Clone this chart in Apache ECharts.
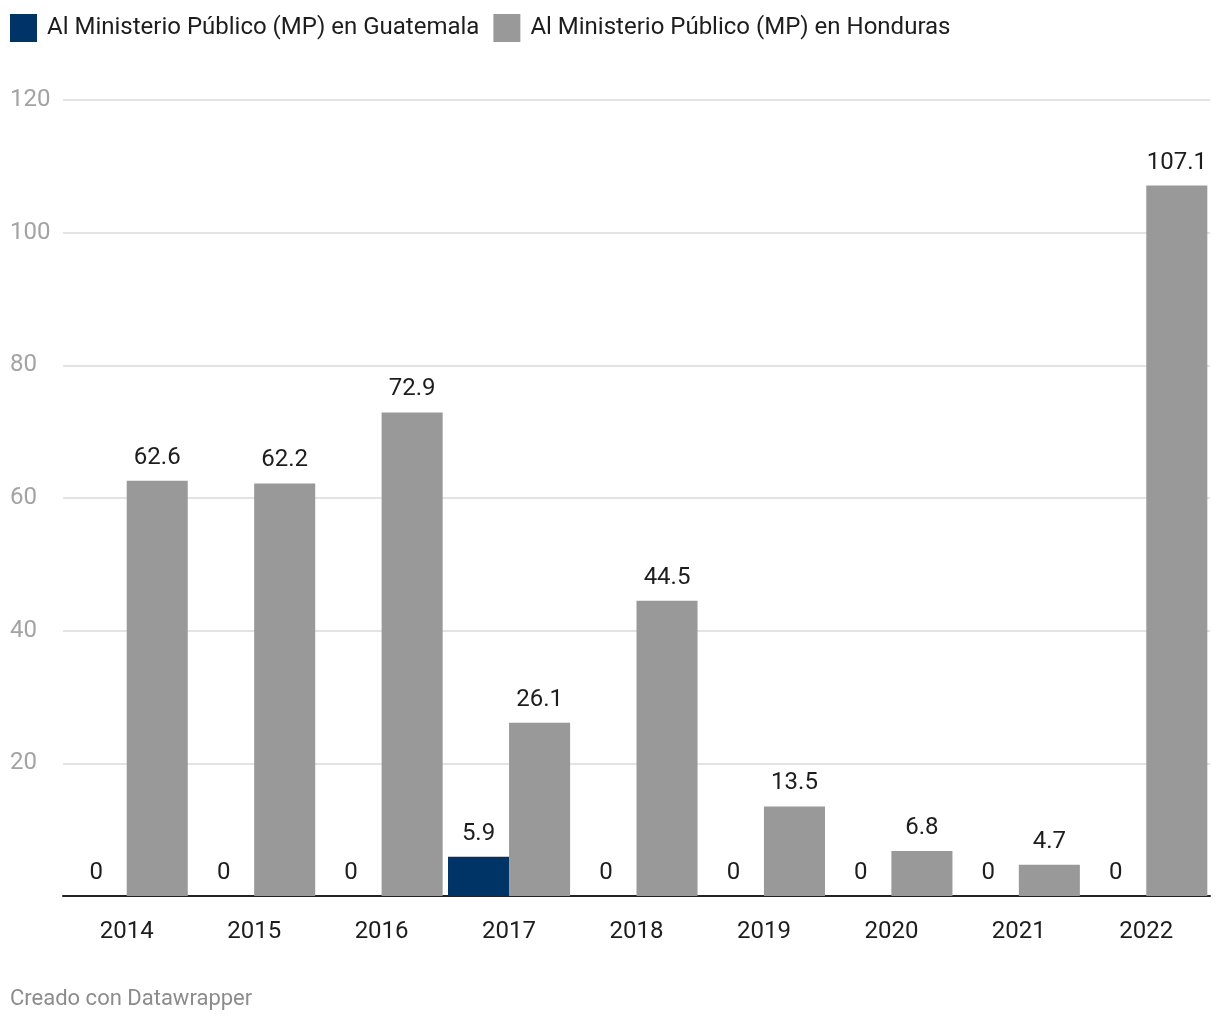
<!DOCTYPE html>
<html><head><meta charset="utf-8">
<script src="https://cdn.jsdelivr.net/npm/echarts@6/dist/echarts.min.js"></script>
<style>html,body{margin:0;padding:0;background:#fff}#c{width:1220px;height:1020px}</style>
</head><body><div id="c"></div>
<script>
const years = ['2014','2015','2016','2017','2018','2019','2020','2021','2022'];
const guatemala = [0, 0, 0, 5.9, 0, 0, 0, 0, 0];
const honduras = [62.6, 62.2, 72.9, 26.1, 44.5, 13.5, 6.8, 4.7, 107.1];
const seriesNames = ['Al Ministerio Público (MP) en Guatemala', 'Al Ministerio Público (MP) en Honduras'];
const yTicks = [0, 20, 40, 60, 80, 100, 120];

const FONT = 'Roboto';
const chart = echarts.init(document.getElementById('c'), null, {renderer: 'canvas'});
const lbl = {show: true, position: 'top', distance: 11, color: '#1d1d1d', fontFamily: FONT, fontSize: 24};
chart.setOption({
  animation: false,
  textStyle: {fontFamily: FONT},
  legend: {
    left: 5, top: 9, itemWidth: 27, itemHeight: 28, itemGap: 14,
    icon: 'rect',
    textStyle: {fontFamily: FONT, fontSize: 24, color: '#1d1d1d', padding: [0, 0, 0, 5]},
    data: seriesNames
  },
  grid: {left: 63, right: 10, top: 100, bottom: 124, containLabel: false},
  xAxis: {
    type: 'category', data: years,
    axisLine: {lineStyle: {color: '#222', width: 2}},
    axisTick: {alignWithLabel: true, length: 7, lineStyle: {color: '#222', width: 2}},
    axisLabel: {color: '#1d1d1d', fontFamily: FONT, fontSize: 24, margin: 24}
  },
  yAxis: {
    type: 'value', min: yTicks[0], max: yTicks[yTicks.length - 1], interval: 20,
    axisLine: {show: false}, axisTick: {show: false},
    splitLine: {lineStyle: {color: '#e3e3e3', width: 2}},
    axisLabel: {
      color: '#a3a3a3', fontFamily: FONT, fontSize: 24, align: 'left', margin: 53,
      formatter: v => v === 0 ? '' : String(v)
    }
  },
  series: [
    {name: seriesNames[0], type: 'bar', data: guatemala, barGap: '0%', barCategoryGap: '4.2%',
     itemStyle: {color: '#003366'}, label: lbl},
    {name: seriesNames[1], type: 'bar', data: honduras, barGap: '0%', barCategoryGap: '4.2%',
     itemStyle: {color: '#999999'}, label: lbl}
  ],
  graphic: [{
    type: 'text', left: 10, top: 988,
    style: {text: 'Creado con Datawrapper', fill: '#8c8c8c', font: '22px Roboto'}
  }]
});
</script></body></html>
